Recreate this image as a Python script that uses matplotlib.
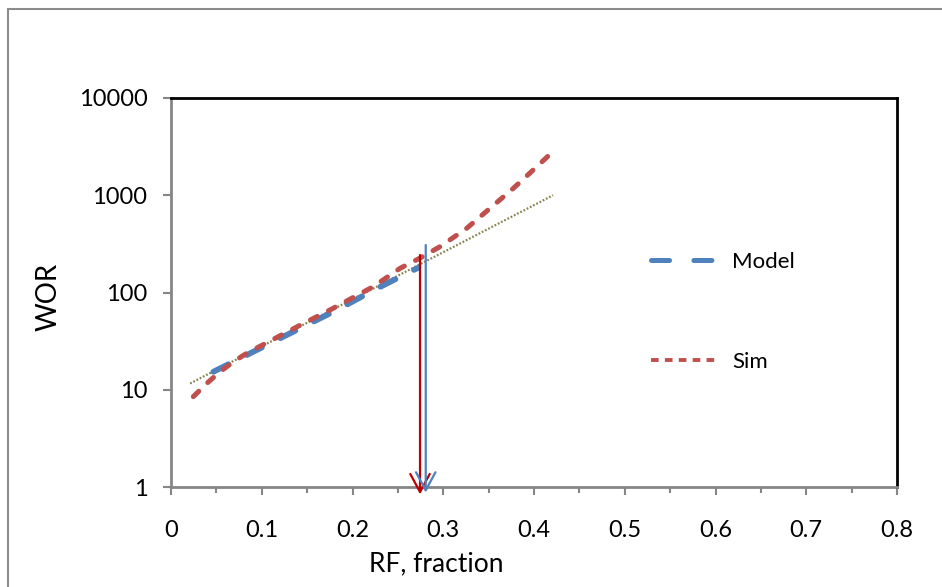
import matplotlib
matplotlib.use("Agg")
import matplotlib.pyplot as plt
from matplotlib.patches import Rectangle
from matplotlib.lines import Line2D
from matplotlib.ticker import FixedLocator, MultipleLocator, NullLocator

plt.rcParams['font.family'] = ['Lato', 'DejaVu Sans']
plt.rcParams['lines.scale_dashes'] = False

# Data
sim_rf = [0.0246, 0.0393, 0.054, 0.0687, 0.0834, 0.1127, 0.142, 0.175, 0.223, 0.2523,
          0.274, 0.2964, 0.3258, 0.3515, 0.3772, 0.403, 0.4215]
sim_wor = [8.5, 11.6, 15.3, 19.4, 23.7, 33, 46, 66, 115, 177,
           225, 296, 457, 734, 1178, 1967, 2850]

model_rf = [0.0467, 0.1054, 0.1458, 0.1826, 0.227, 0.2725]
model_wor = [15.3, 28.8, 44.5, 66, 110, 180]

trend_rf = [0.021, 0.421]
trend_wor = [11.6, 1000]

arrow_rf = [0.2744, 0.2807]
arrow_top = [243, 308]
arrow_tip = [0.84, 0.875]
arrow_colors = ['#C00000', '#4F81BD']

xticks = [0, 0.1, 0.2, 0.3, 0.4, 0.5, 0.6, 0.7, 0.8]
xtick_labels = ['0', '0.1', '0.2', '0.3', '0.4', '0.5', '0.6', '0.7', '0.8']
yticks = [1, 10, 100, 1000, 10000]
ytick_labels = ['1', '10', '100', '1000', '10000']

fig = plt.figure(figsize=(9.42, 5.87), dpi=100)
fig.patches.append(Rectangle((8/942, -0.1), 1.2, 0.1 + (587-9)/587, transform=fig.transFigure,
                             fill=False, edgecolor='#8C8C8C', linewidth=1.5, zorder=0))
ax = fig.add_axes([171/942, 100/587, (897-171)/942, (487-98)/587])

ax.set_yscale('log')
ax.set_xlim(0, 0.8)
ax.set_ylim(1, 10000)

# trend line
ax.plot(trend_rf, trend_wor, color='#8A8450', linewidth=1.6, dashes=(1.3, 1.3), zorder=2)
# model
ax.plot(model_rf, model_wor, color='#4F81BD', linewidth=4.2, dashes=(12, 15),
        dash_capstyle='round', zorder=3)
# sim
ax.plot(sim_rf, sim_wor, color='#C0504D', linewidth=3.6, dashes=(5.5, 9),
        dash_capstyle='round', zorder=4)

for x, top, tip, c in zip(arrow_rf, arrow_top, arrow_tip, arrow_colors):
    ax.annotate('', xy=(x, tip), xytext=(x, top),
                arrowprops=dict(arrowstyle='->,head_length=1.3,head_width=0.7', color=c,
                                lw=1.6, shrinkA=0, shrinkB=0),
                annotation_clip=False, zorder=5)

ax.xaxis.set_major_locator(FixedLocator(xticks))
ax.set_xticklabels(xtick_labels)
ax.xaxis.set_minor_locator(MultipleLocator(0.05))
ax.yaxis.set_major_locator(FixedLocator(yticks))
ax.set_yticklabels(ytick_labels)
ax.yaxis.set_minor_locator(NullLocator())

ax.tick_params(axis='both', which='major', direction='out', length=6, width=1.5,
               color='#868686', labelsize=17)
ax.tick_params(axis='y', which='major', pad=11)
ax.tick_params(axis='x', which='major', pad=18)
ax.tick_params(axis='x', which='minor', direction='out', length=4, width=1.5, color='#868686')

for side in ['left', 'bottom']:
    ax.spines[side].set_color('#868686')
    ax.spines[side].set_linewidth(2)
for side in ['top', 'right']:
    ax.spines[side].set_color('black')
    ax.spines[side].set_linewidth(2)

fig.text(436/942, (587-571.5)/587, 'RF, fraction', fontsize=19, ha='center', va='baseline')
fig.text(49/942, (587-297)/587, 'WOR', fontsize=20, rotation=90, ha='center', va='center')

h_model = Line2D([], [], color='#4F81BD', linewidth=3.6, dashes=(13, 17.5),
                 dash_capstyle='round', label='Model')
h_sim = Line2D([], [], color='#C0504D', linewidth=2.8, dashes=(5.5, 4.5),
               dash_capstyle='butt', label='Sim')
leg = ax.legend(handles=[h_model, h_sim], loc='center left', bbox_to_anchor=(651/942, (587-312)/587),
                bbox_transform=fig.transFigure, frameon=False, fontsize=16,
                handlelength=3.0, handletextpad=0.65, labelspacing=3.6,
                borderpad=0, borderaxespad=0)

fig.savefig('out.png', dpi=100)
